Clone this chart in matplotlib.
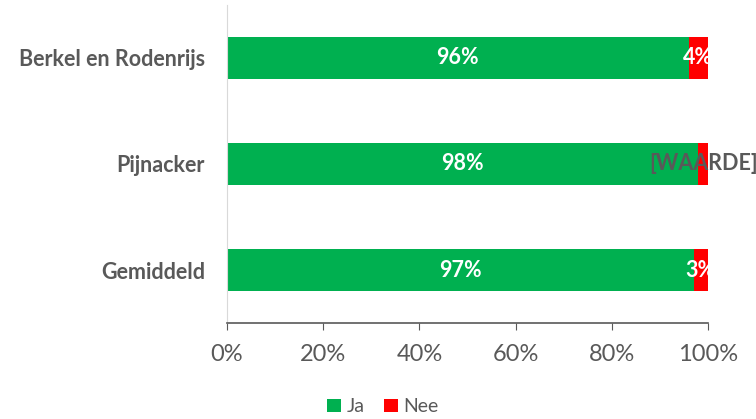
import matplotlib
matplotlib.use("Agg")
from matplotlib import pyplot as plt
from matplotlib.ticker import PercentFormatter

# data (bottom to top)
categories = ["Gemiddeld", "Pijnacker", "Berkel en Rodenrijs"]
ja = [97, 98, 96]
nee = [3, 2, 4]
nee_labels = ["3%", "[WAARDE]", "4%"]

green = "#00B050"
red = "#FF0000"
gray = "#595959"

plt.rcParams['font.family'] = ['Lato', 'DejaVu Sans']

fig = plt.figure(figsize=(7.56, 4.19), dpi=100)
ax = fig.add_axes([0.3003, 0.2291, 0.6362, 0.759])

y = range(len(categories))
b1 = ax.barh(y, ja, height=0.4, color=green, label="Ja")
b2 = ax.barh(y, nee, left=ja, height=0.4, color=red, label="Nee")

for i, (j, n, lab) in enumerate(zip(ja, nee, nee_labels)):
    ax.text(j / 2, i, f"{j}%", ha="center", va="center", color="white",
            fontsize=15.5, fontweight="bold")
    col = gray if lab.startswith("[") else "white"
    ax.text(j + n / 2, i, lab, ha="center", va="center", color=col,
            fontsize=15.5, fontweight="bold")

ax.set_xlim(0, 100)
ax.set_ylim(-0.5, 2.5)
ax.set_yticks(list(y))
ax.set_yticklabels(categories, fontsize=15.5, fontweight="bold", color=gray)
ax.xaxis.set_major_formatter(PercentFormatter(decimals=0))
ax.set_xticks([0, 20, 40, 60, 80, 100])
ax.tick_params(axis="x", colors=gray, labelsize=17, length=5, direction="out", pad=10)
ax.tick_params(axis="y", length=0, pad=16)

for s in ["top", "right"]:
    ax.spines[s].set_visible(False)
ax.spines["left"].set_color("#D9D9D9")
ax.spines["bottom"].set_color(gray)
ax.spines["bottom"].set_linewidth(1.2)

ax.legend(loc="center", bbox_to_anchor=(0.324, -0.264), ncol=2, frameon=False,
          fontsize=14, labelcolor=gray, handlelength=0.7, handleheight=0.7,
          handletextpad=0.3, columnspacing=1.0)

fig.savefig("out.png", dpi=100)
